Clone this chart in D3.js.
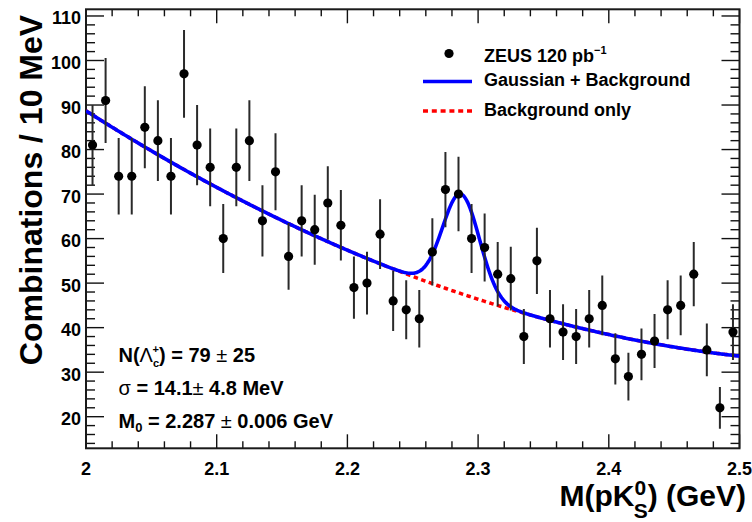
<!DOCTYPE html>
<html>
<head>
<meta charset="utf-8">
<script src="https://cdn.jsdelivr.net/npm/d3@7"></script>
<style>
  html, body { margin: 0; padding: 0; background: #fff; }
  svg { display: block; font-family: "Liberation Sans", Arial, Helvetica, sans-serif; font-weight: bold; }
</style>
</head>
<body>
<svg id="chart" width="752" height="522"></svg>
<script>
// p K0S invariant-mass spectrum, 10 MeV bins from 2.00 to 2.50 GeV
const binLow = 2.0;
const binWidth = 0.01;
const counts = [
  81, 91, 74, 74, 85, 82, 74, 97, 81, 76,
  60, 76, 82, 64, 75, 56, 64, 62, 68, 63,
  49, 50, 61, 46, 44, 42, 57, 71, 70, 60,
  58, 52, 51, 38, 55, 42, 39, 38, 42, 45,
  33, 29, 34, 37, 44, 45, 52, 35, 22, 39
];

// Fit result: quadratic background in (M - 2 GeV) plus a Gaussian signal
const bgCoeffs = [88.7, -187.4, 154.4];
const signalYield = 79;       // N(Λc+)
const signalSigma = 0.0141;   // GeV
const signalMean = 2.287;     // GeV

// Axis ticks
const xMajor = [2.0, 2.1, 2.2, 2.3, 2.4, 2.5];
const xMajorLabels = ["2", "2.1", "2.2", "2.3", "2.4", "2.5"];
const yMajor = [20, 30, 40, 50, 60, 70, 80, 90, 100, 110];

const svg = d3.select("#chart");
const frame = { left: 86, right: 739.5, top: 9.3, bottom: 448.3 };

const x = d3.scaleLinear().domain([2.0, 2.5]).range([frame.left, frame.right]);
const y = d3.scaleLinear().domain([12.9, 111.5]).range([frame.bottom, frame.top]);

const bins = counts.map((n, i) => ({ m: binLow + binWidth * (i + 0.5), n }));

function background(m) {
  const t = m - 2.0;
  return bgCoeffs[0] + bgCoeffs[1] * t + bgCoeffs[2] * t * t;
}
function signal(m) {
  const amp = signalYield * binWidth / (Math.sqrt(2 * Math.PI) * signalSigma);
  const z = (m - signalMean) / signalSigma;
  return amp * Math.exp(-0.5 * z * z);
}

svg.append("defs").append("clipPath").attr("id", "plotClip")
  .append("rect").attr("x", frame.left).attr("y", frame.top)
  .attr("width", frame.right - frame.left).attr("height", frame.bottom - frame.top);

// ---- ticks (drawn inward on all four sides) ----
const xMinor = d3.range(0, 26).map(i => 2.0 + i * 0.02)
  .filter(v => !xMajor.some(M => Math.abs(M - v) < 1e-6));
const yMinor = d3.range(14, 111, 2).filter(v => v % 10 !== 0);

const tickG = svg.append("g").attr("stroke", "#111").attr("stroke-width", 1.4);
function tickLines(vals, len, scale, side) {
  vals.forEach(v => {
    if (side === "bottom" || side === "top") {
      const px = scale(v);
      const y0 = side === "bottom" ? frame.bottom : frame.top;
      const y1 = side === "bottom" ? frame.bottom - len : frame.top + len;
      tickG.append("line").attr("x1", px).attr("x2", px).attr("y1", y0).attr("y2", y1);
    } else {
      const py = scale(v);
      const x0 = side === "left" ? frame.left : frame.right;
      const x1 = side === "left" ? frame.left + len : frame.right - len;
      tickG.append("line").attr("y1", py).attr("y2", py).attr("x1", x0).attr("x2", x1);
    }
  });
}
tickLines(xMajor, 14, x, "bottom");
tickLines(xMinor, 7, x, "bottom");
tickLines(xMajor, 14, x, "top");
tickLines(xMinor, 7, x, "top");
tickLines(yMajor, 18, y, "left");
tickLines(yMinor, 9, y, "left");
tickLines(yMajor, 18, y, "right");
tickLines(yMinor, 9, y, "right");

// ---- tick labels ----
svg.append("g").selectAll("text").data(xMajor).join("text")
  .attr("x", d => x(d)).attr("y", 474.5)
  .attr("text-anchor", "middle").attr("font-size", 18).attr("fill", "#000")
  .text((d, i) => xMajorLabels[i]);

svg.append("g").selectAll("text").data(yMajor).join("text")
  .attr("x", 81).attr("y", d => y(d) + 8.5)
  .attr("text-anchor", "end").attr("font-size", 18).attr("fill", "#000")
  .text(d => d);

// ---- frame ----
svg.append("rect").attr("x", frame.left).attr("y", frame.top)
  .attr("width", frame.right - frame.left).attr("height", frame.bottom - frame.top)
  .attr("fill", "none").attr("stroke", "#1a1a1a").attr("stroke-width", 2);

// ---- fit curves ----
const mGrid = d3.range(0, 501).map(i => 2.0 + i * 0.001);
const plot = svg.append("g").attr("clip-path", "url(#plotClip)");

plot.append("path")
  .datum(mGrid)
  .attr("d", d3.line().x(m => x(m)).y(m => y(background(m))))
  .attr("fill", "none").attr("stroke", "#ff0000").attr("stroke-width", 3.5)
  .attr("stroke-dasharray", "4.5,3.5");

plot.append("path")
  .datum(mGrid)
  .attr("d", d3.line().x(m => x(m)).y(m => y(background(m) + signal(m))))
  .attr("fill", "none").attr("stroke", "#0000ff").attr("stroke-width", 3.6);

// ---- data points with Poisson errors ----
const pts = plot.append("g");
pts.selectAll("line").data(bins).join("line")
  .attr("x1", d => x(d.m)).attr("x2", d => x(d.m))
  .attr("y1", d => y(d.n - Math.sqrt(d.n))).attr("y2", d => y(d.n + Math.sqrt(d.n)))
  .attr("stroke", "#2a2a2a").attr("stroke-width", 2);
pts.selectAll("circle").data(bins).join("circle")
  .attr("cx", d => x(d.m)).attr("cy", d => y(d.n)).attr("r", 4.6)
  .attr("fill", "#000");

// ---- legend ----
const leg = svg.append("g").attr("font-size", 18).attr("fill", "#000");
leg.append("circle").attr("cx", 449).attr("cy", 53.5).attr("r", 4.6).attr("fill", "#000");
const t1 = leg.append("text").attr("x", 484).attr("y", 61.5);
t1.append("tspan").text("ZEUS 120 pb");
t1.append("tspan").attr("font-size", 11).attr("dy", -8).text("−1");
leg.append("line").attr("x1", 423).attr("x2", 472).attr("y1", 81.5).attr("y2", 81.5)
  .attr("stroke", "#0000ff").attr("stroke-width", 3.4);
leg.append("text").attr("x", 484).attr("y", 85.7).text("Gaussian + Background");
leg.append("line").attr("x1", 423).attr("x2", 472).attr("y1", 111).attr("y2", 111)
  .attr("stroke", "#ff0000").attr("stroke-width", 3.4).attr("stroke-dasharray", "5,3.8");
leg.append("text").attr("x", 484).attr("y", 115.7).text("Background only");

// ---- fit parameters ----
const stats = svg.append("g").attr("font-size", 20).attr("fill", "#000");
const s1 = stats.append("text").attr("x", 118.5).attr("y", 362);
s1.append("tspan").text("N(");
s1.append("tspan").attr("font-weight", "normal").text("Λ");
s1.append("tspan").attr("font-size", 11).attr("dy", 5).text("c");
s1.append("tspan").attr("font-size", 11).attr("dx", -6.5).attr("dy", -14).text("+");
s1.append("tspan").attr("dy", 9).text(") = 79 ");
s1.append("tspan").attr("font-weight", "normal").text("±");
s1.append("tspan").text(" 25");

const s2 = stats.append("text").attr("x", 118.5).attr("y", 395);
s2.append("tspan").attr("font-weight", "normal").text("σ");
s2.append("tspan").text(" = 14.1");
s2.append("tspan").attr("font-weight", "normal").text("±");
s2.append("tspan").text(" 4.8 MeV");

const s3 = stats.append("text").attr("x", 118.5).attr("y", 427.5);
s3.append("tspan").text("M");
s3.append("tspan").attr("font-size", 13).attr("dy", 4).text("0");
s3.append("tspan").attr("dy", -4).text(" = 2.287 ");
s3.append("tspan").attr("font-weight", "normal").text("±");
s3.append("tspan").text(" 0.006 GeV");

// ---- axis titles ----
svg.append("text")
  .attr("transform", "translate(42,190) rotate(-90)")
  .attr("text-anchor", "middle").attr("font-size", 32).attr("fill", "#000")
  .text("Combinations / 10 MeV");

const xt = svg.append("text").attr("x", 746).attr("y", 506)
  .attr("text-anchor", "end").attr("font-size", 30).attr("fill", "#000");
xt.append("tspan").text("M(pK");
xt.append("tspan").attr("font-size", 21).attr("dy", -11).text("0");
xt.append("tspan").attr("font-size", 21).attr("dx", -12.5).attr("dy", 23).text("S");
xt.append("tspan").attr("dy", -12).text(") (GeV)");
</script>
</body>
</html>
